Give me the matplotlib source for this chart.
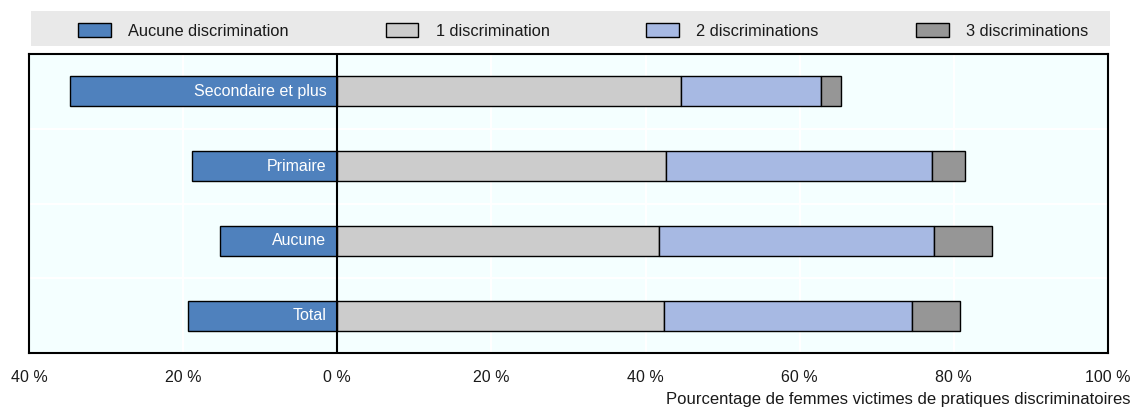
import matplotlib
matplotlib.use("Agg")
import matplotlib.pyplot as plt
from matplotlib.patches import Patch, Rectangle
import numpy as np

plt.rcParams["font.family"] = ["Liberation Sans", "DejaVu Sans"]

# Education level of women, top to bottom
categories = ["Secondaire et plus", "Primaire", "Aucune", "Total"]

# Share of women (%) by number of discriminatory practices experienced
aucune_discrimination = [34.7, 18.8, 15.2, 19.4]
une_discrimination = [44.6, 42.7, 41.7, 42.4]
deux_discriminations = [18.1, 34.4, 35.7, 32.2]
trois_discriminations = [2.7, 4.3, 7.6, 6.2]

series_labels = ["Aucune discrimination", "1 discrimination",
                 "2 discriminations", "3 discriminations"]
series_colors = ["#4F81BD", "#CCCCCC", "#A7B9E3", "#969696"]

xticks = [-40, -20, 0, 20, 40, 60, 80, 100]
xtick_labels = ["40 %", "20 %", "0 %", "20 %", "40 %", "60 %", "80 %", "100 %"]
xlabel = "Pourcentage de femmes victimes de pratiques discriminatoires"

W, H = 1137, 408
fig = plt.figure(figsize=(W / 100, H / 100), dpi=100)
ax = fig.add_axes([29 / W, 1 - 353 / H, (1108 - 29) / W, (353 - 54) / H])
ax.set_facecolor("#F4FFFF")

y = np.arange(len(categories))
bar_h = 0.4
edge = dict(edgecolor="black", linewidth=1.0)

neg = -np.array(aucune_discrimination)
ax.barh(y, neg, height=bar_h, color=series_colors[0], zorder=3, **edge)
left = np.zeros(len(categories))
for vals, col in zip([une_discrimination, deux_discriminations, trois_discriminations],
                     series_colors[1:]):
    ax.barh(y, vals, left=left, height=bar_h, color=col, zorder=3, **edge)
    left = left + np.array(vals)

# Category names written inside the negative bars
for yi, name in zip(y, categories):
    ax.text(-1.4, yi, name, ha="right", va="center", color="white",
            fontsize=11.5, zorder=4)

ax.set_xlim(-40, 100)
ax.set_ylim(len(categories) - 0.5, -0.5)

# White grid: vertical at interior ticks, horizontal between categories
for gx in [-20, 20, 40, 60, 80]:
    ax.axvline(gx, color="white", linewidth=1.5, zorder=1)
for gy in y[:-1] + 0.5:
    ax.axhline(gy, color="white", linewidth=1.5, zorder=1)
ax.axvline(0, color="black", linewidth=1.5, zorder=5)

ax.set_xticks(xticks)
ax.set_xticklabels(xtick_labels, fontsize=11.5, color="#1a1a1a")
ax.set_yticks([])
ax.tick_params(axis="x", length=0, pad=12)
for sp in ax.spines.values():
    sp.set_color("black")
    sp.set_linewidth(1.5)

fig.text(1130 / W, 1 - 404 / H, xlabel, ha="right", va="baseline",
         fontsize=12, color="#1a1a1a")

# Legend band across the top
fig.patches.append(Rectangle((31 / W, 1 - 46 / H), (1110 - 31) / W, 35 / H,
                             transform=fig.transFigure, facecolor="#E9E9E9",
                             edgecolor="none", zorder=0))
handles = [Patch(facecolor=c, edgecolor="black", linewidth=1.0) for c in series_colors]
fig.legend(handles, series_labels, loc="center", ncol=4, mode="expand",
           bbox_to_anchor=(78 / W, 1 - 48 / H, (1088 - 78) / W, 34 / H),
           frameon=False, fontsize=11.8, borderpad=0, borderaxespad=0,
           handlelength=2.0, handleheight=0.95, handletextpad=1.05,
           labelcolor="#1a1a1a")

fig.savefig("out.png", dpi=100)
